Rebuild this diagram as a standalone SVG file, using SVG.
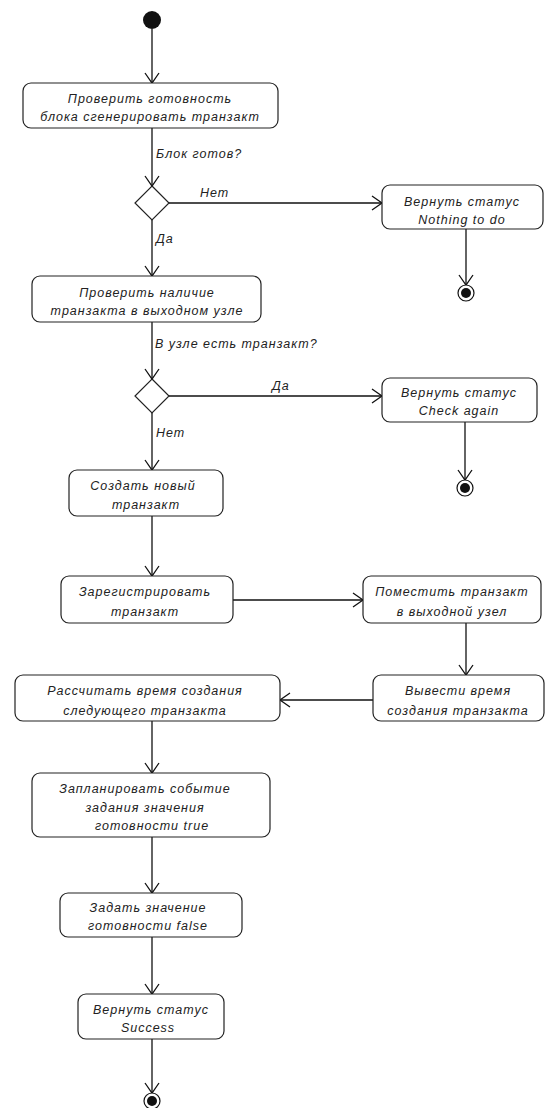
<svg xmlns="http://www.w3.org/2000/svg" width="545" height="1108" viewBox="0 0 545 1108">
<style>
.box{fill:#fff;stroke:#222;stroke-width:1.2}
.ln{fill:none;stroke:#111;stroke-width:1.3}
text{font-family:"Liberation Sans","DejaVu Sans",sans-serif;font-style:italic;font-size:12.5px;letter-spacing:1px;fill:#222}
.c{text-anchor:middle}
</style>
<defs>
<marker id="arr" markerUnits="userSpaceOnUse" markerWidth="14" markerHeight="18" refX="11" refY="8" orient="auto">
<path d="M1,1 L11,8 L1,15" fill="none" stroke="#111" stroke-width="1.3"/>
</marker>
</defs>
<rect width="545" height="1108" fill="#fff"/>
<g id="connectors">
<line class="ln" x1="152" y1="29" x2="152" y2="83" marker-end="url(#arr)"/>
<line class="ln" x1="152" y1="128" x2="152" y2="186" marker-end="url(#arr)"/>
<line class="ln" x1="169" y1="203" x2="382" y2="203" marker-end="url(#arr)"/>
<line class="ln" x1="466" y1="229" x2="466" y2="285" marker-end="url(#arr)"/>
<line class="ln" x1="152" y1="220" x2="152" y2="276" marker-end="url(#arr)"/>
<line class="ln" x1="152" y1="322" x2="152" y2="379" marker-end="url(#arr)"/>
<line class="ln" x1="169" y1="396" x2="382" y2="396" marker-end="url(#arr)"/>
<line class="ln" x1="465" y1="422" x2="465" y2="480" marker-end="url(#arr)"/>
<line class="ln" x1="152" y1="413" x2="152" y2="470" marker-end="url(#arr)"/>
<line class="ln" x1="152" y1="516" x2="152" y2="576" marker-end="url(#arr)"/>
<line class="ln" x1="233" y1="600" x2="363" y2="600" marker-end="url(#arr)"/>
<line class="ln" x1="466" y1="623" x2="466" y2="675" marker-end="url(#arr)"/>
<line class="ln" x1="373" y1="700" x2="280" y2="700" marker-end="url(#arr)"/>
<line class="ln" x1="152" y1="721" x2="152" y2="773" marker-end="url(#arr)"/>
<line class="ln" x1="152" y1="837" x2="152" y2="893" marker-end="url(#arr)"/>
<line class="ln" x1="152" y1="937" x2="152" y2="994" marker-end="url(#arr)"/>
<line class="ln" x1="152" y1="1039" x2="152" y2="1093" marker-end="url(#arr)"/>
<text x="156" y="158">Блок готов?</text>
<text x="200" y="197">Нет</text>
<text x="156" y="243">Да</text>
<text x="155" y="348">В узле есть транзакт?</text>
<text x="272" y="390">Да</text>
<text x="156" y="437">Нет</text>
</g>
<g id="start"><circle cx="152" cy="20" r="9" fill="#111"/></g>
<g id="check-ready"><rect class="box" x="23" y="83" width="255" height="45" rx="8"/>
<text class="c" x="150" y="103">Проверить готовность</text>
<text class="c" x="150" y="121">блока сгенерировать транзакт</text></g>
<g id="decision1"><polygon points="152,186 169,203 152,220 135,203" class="box"/></g>
<g id="nothing"><rect class="box" x="382" y="185" width="161" height="44" rx="8"/>
<text class="c" x="462" y="206">Вернуть статус</text>
<text class="c" x="462" y="224">Nothing to do</text></g>
<g id="end1"><circle cx="466" cy="293" r="8" fill="#fff" stroke="#111" stroke-width="1.2"/><circle cx="466" cy="293" r="5" fill="#111"/></g>
<g id="check-node"><rect class="box" x="32" y="276" width="229" height="46" rx="8"/>
<text class="c" x="147" y="297">Проверить наличие</text>
<text class="c" x="147" y="315">транзакта в выходном узле</text></g>
<g id="decision2"><polygon points="152,379 169,396 152,413 135,396" class="box"/></g>
<g id="check-again"><rect class="box" x="382" y="378" width="155" height="44" rx="8"/>
<text class="c" x="459" y="397">Вернуть статус</text>
<text class="c" x="459" y="415">Check again</text></g>
<g id="end2"><circle cx="465" cy="488" r="8" fill="#fff" stroke="#111" stroke-width="1.2"/><circle cx="465" cy="488" r="5" fill="#111"/></g>
<g id="create"><rect class="box" x="69" y="470" width="154" height="46" rx="8"/>
<text class="c" x="143" y="490">Создать новый</text>
<text class="c" x="146" y="509">транзакт</text></g>
<g id="register"><rect class="box" x="61" y="576" width="172" height="47" rx="8"/>
<text class="c" x="145" y="596">Зарегистрировать</text>
<text class="c" x="145" y="616">транзакт</text></g>
<g id="place"><rect class="box" x="363" y="576" width="178" height="47" rx="8"/>
<text class="c" x="452" y="596">Поместить транзакт</text>
<text class="c" x="452" y="616">в выходной узел</text></g>
<g id="output"><rect class="box" x="373" y="675" width="171" height="46" rx="8"/>
<text class="c" x="458" y="695">Вывести время</text>
<text class="c" x="458" y="715">создания транзакта</text></g>
<g id="calc"><rect class="box" x="15" y="675" width="265" height="46" rx="8"/>
<text class="c" x="145" y="695">Рассчитать время создания</text>
<text class="c" x="145" y="715">следующего транзакта</text></g>
<g id="plan"><rect class="box" x="32" y="773" width="238" height="64" rx="8"/>
<text class="c" x="145" y="793">Запланировать событие</text>
<text class="c" x="145" y="812">задания значения</text>
<text class="c" x="152" y="830">готовности true</text></g>
<g id="set-false"><rect class="box" x="60" y="893" width="182" height="44" rx="8"/>
<text class="c" x="148" y="912">Задать значение</text>
<text class="c" x="148" y="930">готовности false</text></g>
<g id="success"><rect class="box" x="78" y="994" width="146" height="45" rx="8"/>
<text class="c" x="151" y="1014">Вернуть статус</text>
<text class="c" x="148" y="1032">Success</text></g>
<g id="end3"><circle cx="152" cy="1101" r="8" fill="#fff" stroke="#111" stroke-width="1.2"/><circle cx="152" cy="1101" r="5" fill="#111"/></g>
</svg>
